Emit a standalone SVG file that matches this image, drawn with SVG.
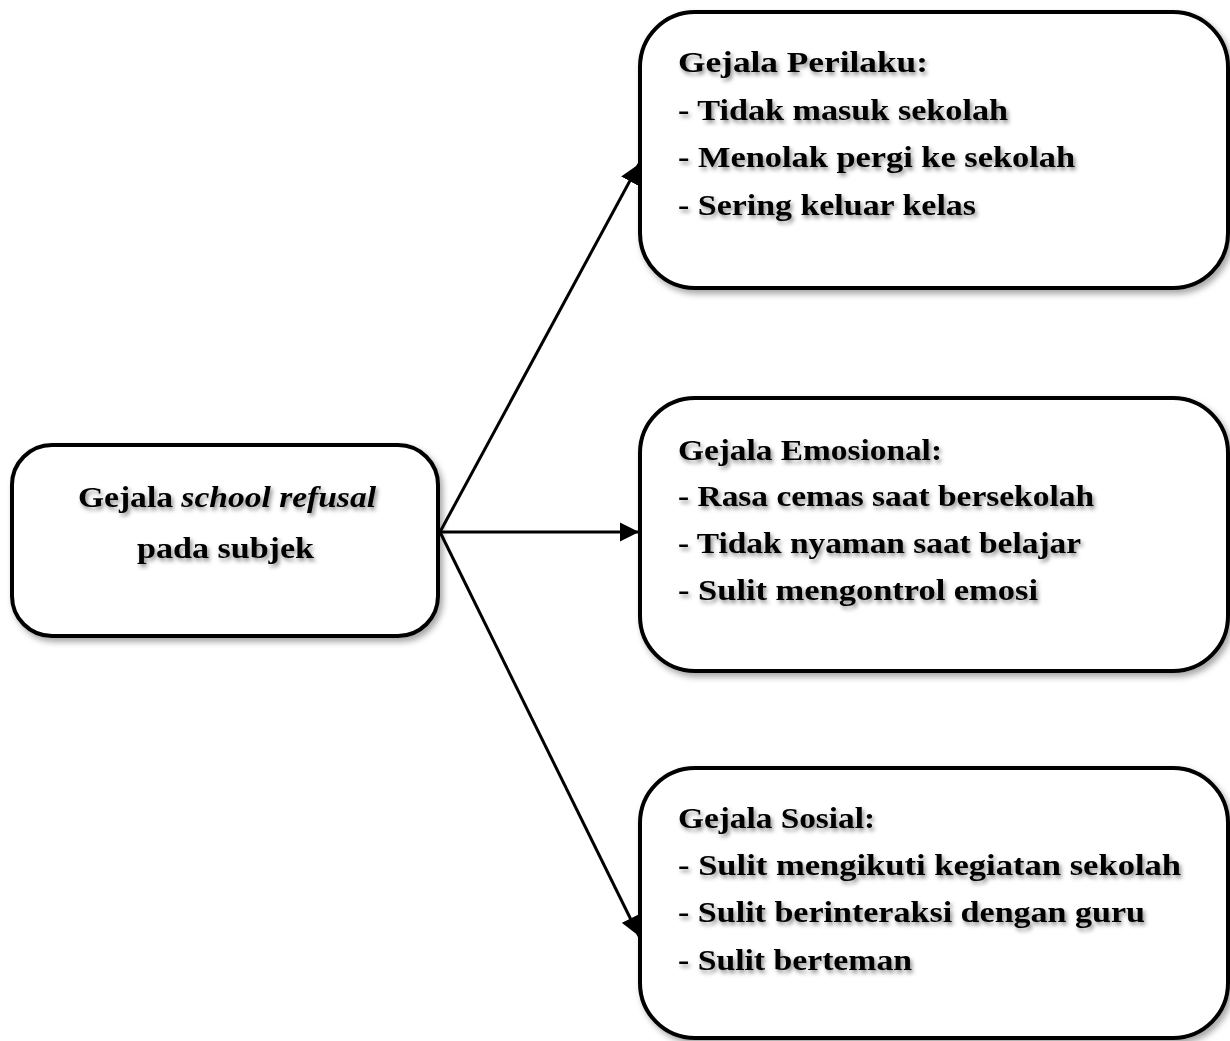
<svg xmlns="http://www.w3.org/2000/svg" width="1230" height="1041" viewBox="0 0 1230 1041">
<defs>
<filter id="bshadow" x="-10%" y="-10%" width="130%" height="130%">
<feDropShadow dx="3" dy="4" stdDeviation="3" flood-color="#000" flood-opacity="0.35"/>
</filter>
<filter id="tshadow" x="-5%" y="-20%" width="115%" height="160%">
<feDropShadow dx="2" dy="3" stdDeviation="2" flood-color="#000" flood-opacity="0.45"/>
</filter>
<marker id="arr" viewBox="0 0 10 10" refX="10" refY="5" markerWidth="6.5" markerHeight="6.5" markerUnits="strokeWidth" orient="auto">
<path d="M0,0 L10,5 L0,10 z" fill="#000"/>
</marker>
<style>
.box{fill:#fff;stroke:#000;stroke-width:4;filter:url(#bshadow)}
.t{font-family:"Liberation Serif","DejaVu Serif",serif;font-weight:bold;font-size:30px;fill:#000;filter:url(#tshadow)}
.c{stroke:#000;stroke-width:3;fill:none;marker-end:url(#arr)}
</style>
</defs>
<g id="connectors">
<line class="c" x1="440" y1="532" x2="639" y2="164"/>
<line class="c" x1="440" y1="532" x2="639" y2="532"/>
<line class="c" x1="440" y1="532" x2="639" y2="936"/>
</g>
<g id="node-main">
<rect class="box" x="12" y="445" width="426" height="191" rx="40"/>
<text class="t" x="78" y="507" textLength="298" lengthAdjust="spacingAndGlyphs">Gejala <tspan font-style="italic">school refusal</tspan></text>
<text class="t" x="137" y="558" textLength="177" lengthAdjust="spacingAndGlyphs">pada subjek</text>
</g>
<g id="node-perilaku">
<rect class="box" x="640" y="12" width="588" height="276" rx="55"/>
<text class="t" x="678" y="72" textLength="250" lengthAdjust="spacingAndGlyphs">Gejala Perilaku:</text>
<text class="t" x="678" y="120" textLength="330" lengthAdjust="spacingAndGlyphs">- Tidak masuk sekolah</text>
<text class="t" x="678" y="167" textLength="397" lengthAdjust="spacingAndGlyphs">- Menolak pergi ke sekolah</text>
<text class="t" x="678" y="215" textLength="298" lengthAdjust="spacingAndGlyphs">- Sering keluar kelas</text>
</g>
<g id="node-emosional">
<rect class="box" x="640" y="398" width="588" height="273" rx="55"/>
<text class="t" x="678" y="460" textLength="264" lengthAdjust="spacingAndGlyphs">Gejala Emosional:</text>
<text class="t" x="678" y="506" textLength="416" lengthAdjust="spacingAndGlyphs">- Rasa cemas saat bersekolah</text>
<text class="t" x="678" y="553" textLength="403" lengthAdjust="spacingAndGlyphs">- Tidak nyaman saat belajar</text>
<text class="t" x="678" y="600" textLength="360" lengthAdjust="spacingAndGlyphs">- Sulit mengontrol emosi</text>
</g>
<g id="node-sosial">
<rect class="box" x="640" y="768" width="588" height="270" rx="55"/>
<text class="t" x="678" y="828" textLength="197" lengthAdjust="spacingAndGlyphs">Gejala Sosial:</text>
<text class="t" x="678" y="875" textLength="503" lengthAdjust="spacingAndGlyphs">- Sulit mengikuti kegiatan sekolah</text>
<text class="t" x="678" y="922" textLength="467" lengthAdjust="spacingAndGlyphs">- Sulit berinteraksi dengan guru</text>
<text class="t" x="678" y="970" textLength="234" lengthAdjust="spacingAndGlyphs">- Sulit berteman</text>
</g>
</svg>
